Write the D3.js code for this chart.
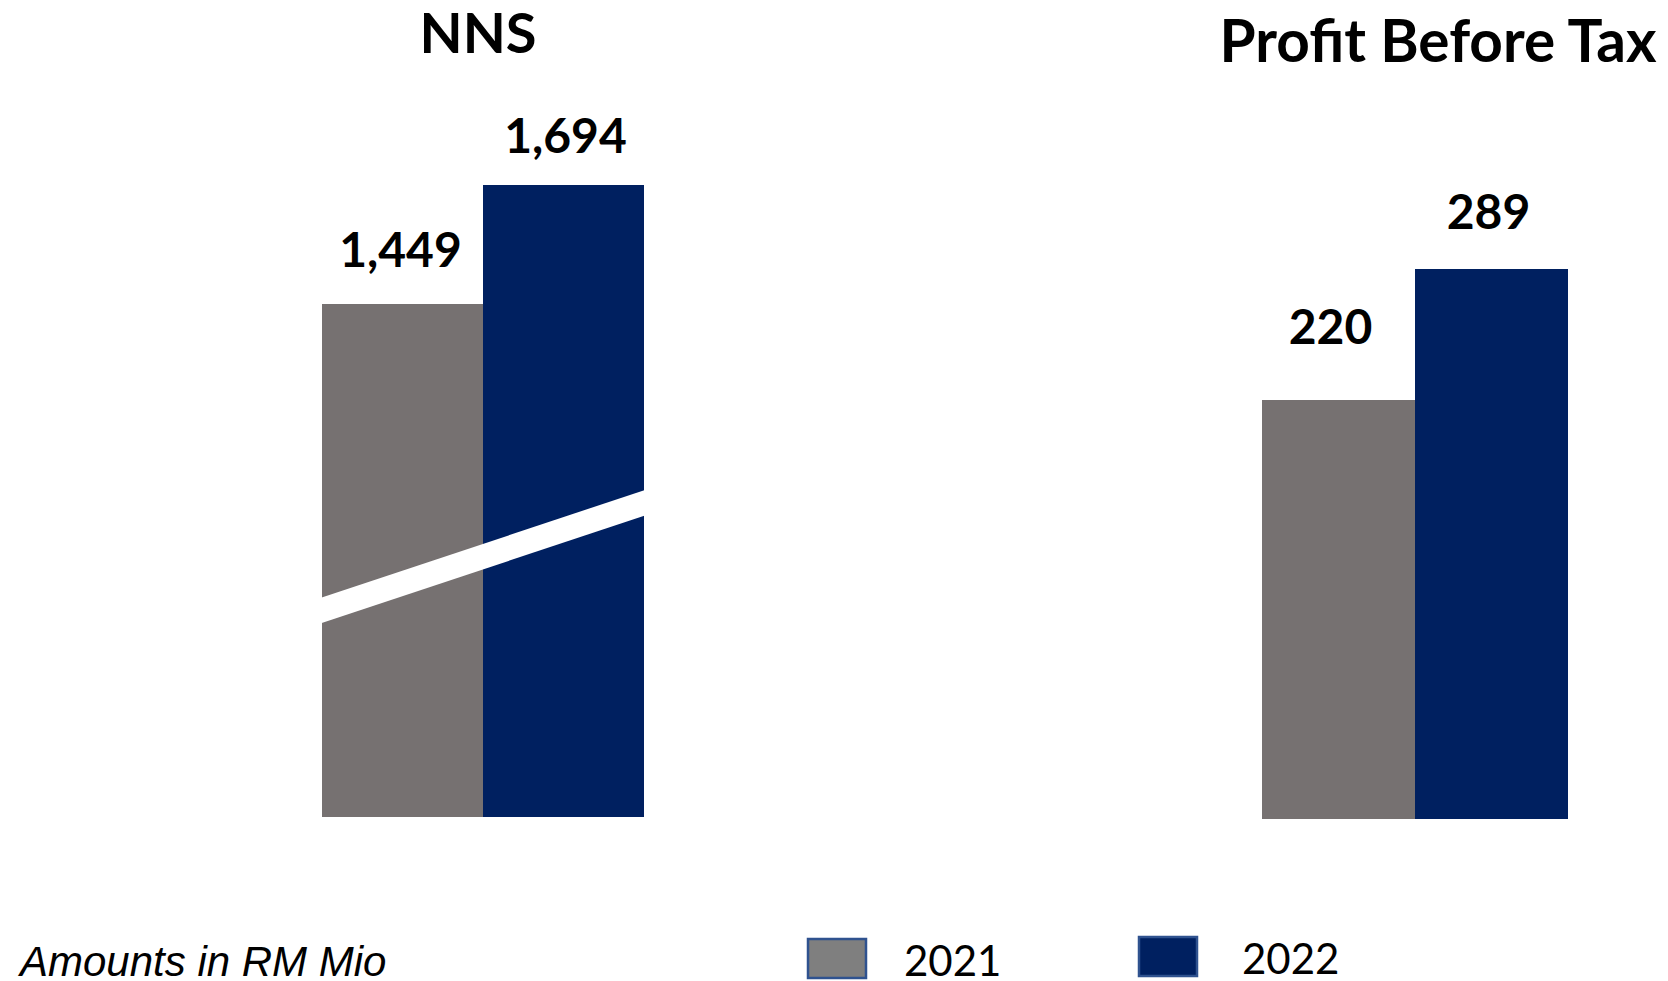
<!DOCTYPE html>
<html lang="en">
<head>
<meta charset="UTF-8">
<title>NNS and Profit Before Tax</title>
<script src="https://d3js.org/d3.v7.min.js"></script>
<style>
    body { margin: 0; background: #fff; }
    svg { display: block; }
    .title { font-family: Lato, "Open Sans", sans-serif; font-weight: bold; fill: #000; }
    .value { font-family: Lato, "Open Sans", sans-serif; font-weight: bold; fill: #000; }
    .legend-text { font-family: Lato, "Open Sans", sans-serif; fill: #000; }
    .note { font-family: "Liberation Sans", Arial, sans-serif; font-style: italic; fill: #000; }
</style>
</head>
<body>
<svg id="chart" width="1668" height="981"></svg>
<script>
// data
const years = ["2021", "2022"];
const nnsValues = [1449, 1694];
const pbtValues = [220, 289];
const panelTitles = ["NNS", "Profit Before Tax"];
const seriesColors = ["#767171", "#002060"];
const legendColors = ["#7f7f7f", "#002060"];
const noteText = "Amounts in RM Mio";

const svg = d3.select("#chart");

// NNS uses a broken axis, so its scale does not start at zero
const xN = d3.scaleBand().domain(years).range([322, 644]).padding(0);
const yN = d3.scaleLinear().domain([393, 1694]).range([817, 185]);

const xP = d3.scaleBand().domain(years).range([1262, 1568]).padding(0);
const yP = d3.scaleLinear().domain([0, 289]).range([819, 269]);

const fmt = d3.format(",");

function drawPanel(values, x, y, labelGap) {
    const g = svg.append("g");
    const data = years.map((yr, i) => ({ year: yr, value: values[i], color: seriesColors[i] }));

    g.selectAll("rect")
        .data(data)
        .enter().append("rect")
        .attr("x", d => x(d.year))
        .attr("y", d => y(d.value))
        .attr("width", x.bandwidth())
        .attr("height", d => y.range()[0] - y(d.value))
        .attr("fill", d => d.color)
        .attr("shape-rendering", "crispEdges");

    g.selectAll("text.value")
        .data(data)
        .enter().append("text")
        .attr("class", "value")
        .attr("x", (d, i) => x(d.year) + x.bandwidth() / 2 + labelGap.dx[i])
        .attr("y", (d, i) => y(d.value) - labelGap.dy[i])
        .attr("text-anchor", "middle")
        .style("font-size", "48px")
        .text(d => fmt(d.value));
    return g;
}

const nnsG = drawPanel(nnsValues, xN, yN, { dx: [-2, 2], dy: [37, 32] });
drawPanel(pbtValues, xP, yP, { dx: [-8, -3], dy: [56, 40] });

// axis break slash across the NNS bars
const bx0 = xN.range()[0], bx1 = xN.range()[1];
const breakLow = [yN(818), yN(1040)];
const breakThick = 25.5;
nnsG.append("path")
    .attr("d", `M${bx0 - 1},${breakLow[0] - breakThick / 2}L${bx1 + 1},${breakLow[1] - breakThick / 2}` +
               `L${bx1 + 1},${breakLow[1] + breakThick / 2}L${bx0 - 1},${breakLow[0] + breakThick / 2}Z`)
    .attr("fill", "#fff");

// titles
svg.append("text").attr("class", "title")
    .attr("x", 478).attr("y", 53)
    .attr("text-anchor", "middle")
    .style("font-size", "56px")
    .text(panelTitles[0]);

svg.append("text").attr("class", "title")
    .attr("x", 1438).attr("y", 62)
    .attr("text-anchor", "middle")
    .style("font-size", "58.5px")
    .text(panelTitles[1]);

// legend
const legendPos = [{ x: 808, y: 939, tx: 904, ty: 976 }, { x: 1139, y: 937, tx: 1242, ty: 974 }];
const legend = svg.append("g").selectAll("g")
    .data(years)
    .enter().append("g");

legend.append("rect")
    .attr("x", (d, i) => legendPos[i].x)
    .attr("y", (d, i) => legendPos[i].y)
    .attr("width", 58)
    .attr("height", 39)
    .attr("fill", (d, i) => legendColors[i])
    .attr("stroke", "#2f528f")
    .attr("stroke-width", 2.5);

legend.append("text")
    .attr("class", "legend-text")
    .attr("x", (d, i) => legendPos[i].tx)
    .attr("y", (d, i) => legendPos[i].ty)
    .style("font-size", "42px")
    .text(d => d);

svg.append("text").attr("class", "note")
    .attr("x", 20).attr("y", 976)
    .style("font-size", "42px")
    .text(noteText);
</script>
</body>
</html>
